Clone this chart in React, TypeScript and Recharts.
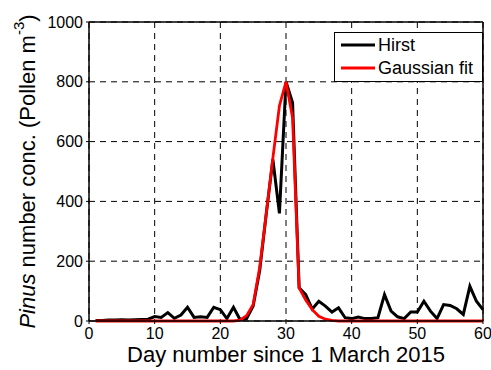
import React from 'react'
import {
  LineChart,
  Line,
  XAxis,
  YAxis,
  CartesianGrid,
  ReferenceLine,
} from 'recharts'

// day numbers since 1 March 2015
const days = [
  1, 2, 3, 4, 5, 6, 7, 8, 9, 10, 11, 12, 13, 14, 15, 16, 17, 18, 19, 20,
  21, 22, 23, 24, 25, 26, 27, 28, 29, 30, 31, 32, 33, 34, 35, 36, 37, 38, 39, 40,
  41, 42, 43, 44, 45, 46, 47, 48, 49, 50, 51, 52, 53, 54, 55, 56, 57, 58, 59, 60,
]

// Hirst trap, pollen m^-3
const hirst = [
  2, 2, 3, 3, 4, 3, 4, 5, 6, 15, 12, 28, 9, 20, 46, 12, 14, 12, 46, 38,
  8, 46, 5, 8, 50, 170, 360, 540, 360, 800, 730, 111, 88, 40, 66, 50, 30, 44, 11, 8,
  13, 8, 8, 11, 88, 33, 14, 8, 30, 30, 66, 33, 8, 55, 52, 41, 22, 116, 66, 38,
]

// gaussian fit
const gaussFit = [
  0, 0, 0, 0, 0, 0, 0, 0, 0, 0, 0, 0, 0, 0, 0, 0, 0, 0, 0, 0,
  0, 0, 3, 18, 55, 180, 360, 545, 720, 800, 680, 111, 70, 38, 16, 6, 2, 0, 0, 0,
  0, 0, 0, 0, 0, 0, 0, 0, 0, 0, 0, 0, 0, 0, 0, 0, 0, 0, 0, 0,
]

const xTicks = [0, 10, 20, 30, 40, 50, 60]
const yTicks = [0, 200, 400, 600, 800, 1000]

const FONT = '"Liberation Sans", Arial, sans-serif'

const data = days.map((d, i) => ({ day: d, hirst: hirst[i], fit: gaussFit[i] }))

function YLabel(props: any) {
  const { viewBox } = props
  const cx = 27
  const cy = viewBox.y + viewBox.height / 2
  return (
    <text
      x={cx}
      y={cy}
      transform={`rotate(-90 ${cx} ${cy})`}
      textAnchor="middle"
      dominantBaseline="central"
      fontSize={22}
      fontFamily={FONT}
      fill="#000"
    >
      <tspan fontStyle="italic">Pinus</tspan>
      <tspan> number conc. (Pollen m</tspan>
      <tspan fontSize={15} dy={-9}>-3</tspan>
      <tspan dy={9}>)</tspan>
    </text>
  )
}

export default function App() {
  return (
    <div style={{ position: 'absolute', left: 0, top: 0, width: 491, height: 370, background: '#fff' }}>
      <LineChart
        width={491}
        height={370}
        data={data}
        margin={{ top: 22, right: 8, left: 29, bottom: 19 }}
      >
        <CartesianGrid stroke="#000" strokeDasharray="6 5" strokeWidth={1} />
        <XAxis
          dataKey="day"
          type="number"
          domain={[0, 60]}
          ticks={xTicks}
          height={30}
          axisLine={{ stroke: '#000', strokeWidth: 1.5 }}
          tickLine={{ stroke: '#000' }}
          tickSize={3}
          tickMargin={4}
          tick={{ fill: '#000', fontSize: 16, fontFamily: FONT }}
          label={{
            value: 'Day number since 1 March 2015',
            position: 'bottom',
            offset: -5,
            fill: '#000',
            fontSize: 22,
            fontFamily: FONT,
          }}
        />
        <YAxis
          type="number"
          domain={[0, 1000]}
          ticks={yTicks}
          width={60}
          axisLine={{ stroke: '#000', strokeWidth: 1.5 }}
          tickLine={{ stroke: '#000' }}
          tickSize={3}
          tickMargin={3}
          tick={{ fill: '#000', fontSize: 16, fontFamily: FONT }}
          label={<YLabel />}
        />
        <ReferenceLine y={1000} stroke="#000" strokeWidth={1.5} />
        <ReferenceLine x={60} stroke="#000" strokeWidth={1.5} />
        <Line
          type="linear"
          dataKey="hirst"
          stroke="#000"
          strokeWidth={3}
          dot={false}
          isAnimationActive={false}
        />
        <Line
          type="linear"
          dataKey="fit"
          stroke="#ff0000"
          strokeWidth={2.8}
          dot={false}
          isAnimationActive={false}
        />
      </LineChart>
      <div
        style={{
          position: 'absolute',
          left: 334,
          top: 32,
          width: 147,
          height: 48,
          border: '1.5px solid #000',
          background: '#fff',
          fontFamily: FONT,
          fontSize: 18,
          color: '#000',
        }}
      >
        <div style={{ position: 'absolute', top: 2, left: 6, display: 'flex', alignItems: 'center', height: 20 }}>
          <svg width={34} height={4}>
            <line x1={0} y1={2} x2={34} y2={2} stroke="#000" strokeWidth={3} />
          </svg>
          <span style={{ marginLeft: 3 }}>Hirst</span>
        </div>
        <div style={{ position: 'absolute', top: 25, left: 6, display: 'flex', alignItems: 'center', height: 20 }}>
          <svg width={34} height={4}>
            <line x1={0} y1={2} x2={34} y2={2} stroke="#ff0000" strokeWidth={2.8} />
          </svg>
          <span style={{ marginLeft: 3 }}>Gaussian fit</span>
        </div>
      </div>
    </div>
  )
}
